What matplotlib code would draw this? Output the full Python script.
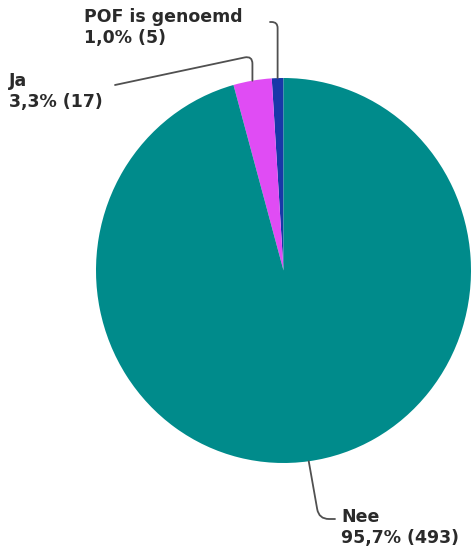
import numpy as np
import matplotlib.pyplot as plt

# answer categories, shares (%) and counts
labels = ['POF is genoemd', 'Ja', 'Nee']
shares = [1.0, 3.3, 95.7]
counts = [5, 17, 493]
colors = ['#1838a8', '#e04cf4', '#008b8b']

W, H = 473, 558
fig = plt.figure(figsize=(W / 100, H / 100), dpi=100)
# pie area in image pixels: left 96, right 471, top 78, bottom 463
ax = fig.add_axes([96 / W, 1 - 463 / H, 375 / W, 385 / H])
wedges, _ = ax.pie(shares, colors=colors, startangle=90, counterclock=True,
                   wedgeprops=dict(linewidth=0))
ax.set_aspect('auto')
ax.set_xlim(-1, 1)
ax.set_ylim(-1, 1)

# label text position (image px, top-left of first line) and leader line start
text_pos = [(84, 8), (9, 72), (341, 508)]
line_from = [(270, 22), (115, 85), (335, 519)]
styles = ["angle,angleA=0,angleB=90,rad=6",
          "angle,angleA=12,angleB=90,rad=8",
          "angle,angleA=0,angleB=100,rad=10"]

txt = dict(fontsize=12.5, fontweight='bold', family='DejaVu Sans', color='#2a2a2a')
for w, lab, s, n, tp, lf, cs in zip(wedges, labels, shares, counts, text_pos, line_from, styles):
    fig.text(tp[0] / W, 1 - tp[1] / H, f"{lab}\n{s:.1f}% ({n})".replace('.', ','),
             ha='left', va='top', linespacing=1.2, **txt)
    mid = np.deg2rad((w.theta1 + w.theta2) / 2)
    ax.annotate('', xy=(np.cos(mid), np.sin(mid)), xycoords='data',
                xytext=(lf[0], H - lf[1]), textcoords='figure pixels',
                arrowprops=dict(arrowstyle='-', color='#505050', lw=1.3,
                                connectionstyle=cs, shrinkA=0, shrinkB=0),
                annotation_clip=False)

fig.savefig('out.png', dpi=100)
